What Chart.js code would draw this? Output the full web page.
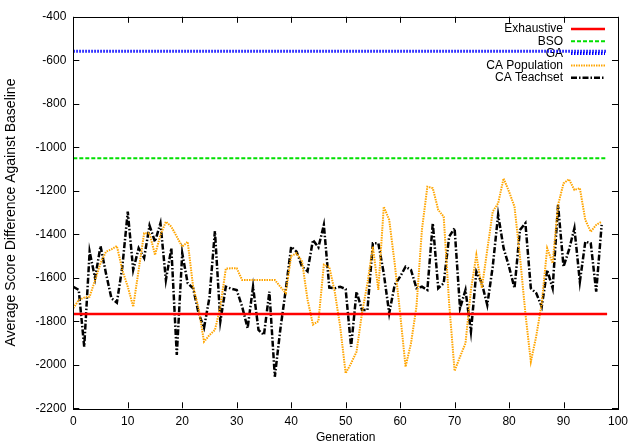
<!DOCTYPE html>
<html>
<head>
<meta charset="utf-8">
<script src="https://cdn.jsdelivr.net/npm/chart.js@4.4.1/dist/chart.umd.min.js"></script>
<style>
  html, body { margin: 0; padding: 0; background: #fff; }
  #wrap { width: 634px; height: 444px; }
</style>
</head>
<body>
<div id="wrap"><canvas id="chart" width="634" height="444"></canvas></div>
<script>
// generations 0..97
const generations = [
  0, 1, 2, 3, 4, 5, 6, 7, 8, 9, 10, 11, 12, 13, 14, 15, 16, 17, 18, 19,
  20, 21, 22, 23, 24, 25, 26, 27, 28, 29, 30, 31, 32, 33, 34, 35, 36, 37, 38, 39,
  40, 41, 42, 43, 44, 45, 46, 47, 48, 49, 50, 51, 52, 53, 54, 55, 56, 57, 58, 59,
  60, 61, 62, 63, 64, 65, 66, 67, 68, 69, 70, 71, 72, 73, 74, 75, 76, 77, 78, 79,
  80, 81, 82, 83, 84, 85, 86, 87, 88, 89, 90, 91, 92, 93, 94, 95, 96, 97
];

// flat reference results (start and end generation)
const refSpan = [0, 98];
const exhaustiveScore = -1766;
const bsoScore = -1050;
const gaScore = -558;

const caPopulation = [
  -1740, -1702, -1691, -1687, -1610, -1533, -1480, -1469, -1454, -1564,
  -1641, -1733, -1564, -1395, -1395, -1495, -1403, -1342, -1365, -1411,
  -1457, -1434, -1641, -1740, -1894, -1863, -1840, -1733, -1558, -1556,
  -1556, -1610, -1610, -1610, -1610, -1610, -1610, -1610, -1641, -1670,
  -1500, -1487, -1525, -1700, -1815, -1800, -1540, -1550, -1664, -1825,
  -2039, -1993, -1940, -1763, -1625, -1457, -1656, -1273, -1334, -1533,
  -1763, -2009, -1901, -1733, -1380, -1181, -1188, -1288, -1319, -1717,
  -2028, -1963, -1901, -1656, -1495, -1648, -1472, -1296, -1257, -1143,
  -1204, -1273, -1503, -1763, -1986, -1867, -1717, -1464, -1533, -1265,
  -1166, -1147, -1196, -1188, -1334, -1388, -1357, -1342
];

const caTeachset = [
  -1641, -1656, -1917, -1480, -1602, -1454, -1580, -1694, -1714, -1550,
  -1296, -1564, -1464, -1509, -1360, -1434, -1349, -1610, -1464, -1955,
  -1487, -1625, -1648, -1763, -1830, -1690, -1385, -1800, -1641, -1650,
  -1656, -1733, -1832, -1641, -1840, -1863, -1664, -2055, -1839, -1656,
  -1457, -1480, -1549, -1570, -1426, -1460, -1357, -1645, -1648, -1641,
  -1652, -1917, -1664, -1748, -1748, -1441, -1441, -1580, -1763, -1633,
  -1595, -1549, -1564, -1648, -1641, -1656, -1349, -1648, -1625, -1411,
  -1372, -1740, -1656, -1848, -1572, -1625, -1725, -1549, -1310, -1464,
  -1549, -1648, -1380, -1349, -1648, -1671, -1733, -1564, -1648, -1265,
  -1549, -1472, -1372, -1618, -1434, -1441, -1664, -1357
];

const FONT = '"Liberation Sans", Arial, Helvetica, sans-serif';

function flat(v) {
  return refSpan.map(g => ({ x: g, y: v }));
}
function series(vals) {
  return generations.map((g, i) => ({ x: g, y: vals[i] }));
}

// gnuplot style box: full frame with ticks pointing inwards on all sides
const frameTicks = {
  id: 'frameTicks',
  afterDraw(chart) {
    const { ctx, chartArea: a, scales } = chart;
    const len = 6;
    ctx.save();
    ctx.strokeStyle = '#000';
    ctx.lineWidth = 1;
    ctx.setLineDash([]);
    ctx.beginPath();
    scales.x.ticks.forEach(t => {
      const px = Math.round(scales.x.getPixelForValue(t.value)) + 0.5;
      ctx.moveTo(px, a.bottom); ctx.lineTo(px, a.bottom - len);
      ctx.moveTo(px, a.top); ctx.lineTo(px, a.top + len);
    });
    scales.y.ticks.forEach(t => {
      const py = Math.round(scales.y.getPixelForValue(t.value)) + 0.5;
      ctx.moveTo(a.left, py); ctx.lineTo(a.left + len, py);
      ctx.moveTo(a.right, py); ctx.lineTo(a.right - len, py);
    });
    ctx.stroke();
    ctx.strokeRect(Math.round(a.left) + 0.5, Math.round(a.top) + 0.5,
      Math.round(a.right - a.left), Math.round(a.bottom - a.top));
    ctx.restore();
  }
};

// key in the top right corner: label then a line sample
const keyBox = {
  id: 'keyBox',
  beforeDatasetsDraw(chart) {
    const { ctx } = chart;
    const textRight = 563, x0 = 571, x1 = 605, top = 29, step = 12.2;
    ctx.save();
    ctx.font = '12px ' + FONT;
    ctx.textAlign = 'right';
    ctx.textBaseline = 'middle';
    chart.data.datasets.forEach((ds, i) => {
      const y = top + i * step;
      ctx.fillStyle = '#000';
      ctx.fillText(ds.label, textRight, y);
      ctx.strokeStyle = ds.borderColor;
      ctx.lineWidth = ds.borderWidth;
      ctx.setLineDash(ds.borderDash || []);
      ctx.beginPath();
      ctx.moveTo(x0, y);
      ctx.lineTo(x1, y);
      ctx.stroke();
    });
    ctx.restore();
  }
};

new Chart(document.getElementById('chart'), {
  type: 'line',
  data: {
    datasets: [
      { label: 'Exhaustive', data: flat(exhaustiveScore), borderColor: '#ff0000', borderWidth: 2.5 },
      { label: 'BSO', data: flat(bsoScore), borderColor: '#00e000', borderWidth: 2, borderDash: [4, 2] },
      { label: 'GA', data: flat(gaScore), borderColor: '#0000ff', borderWidth: 3, borderDash: [1.5, 1.5] },
      { label: 'CA Population', data: series(caPopulation), borderColor: '#ffa500', borderWidth: 2, borderDash: [1.5, 1] },
      { label: 'CA Teachset', data: series(caTeachset), borderColor: '#000000', borderWidth: 2.5, borderDash: [6, 2, 1.5, 2] }
    ]
  },
  options: {
    responsive: false,
    animation: false,
    devicePixelRatio: 1,
    layout: { padding: { left: 0, right: 12.7, top: 16.8, bottom: 0 } },
    elements: { point: { radius: 0 }, line: { tension: 0, fill: false } },
    plugins: { legend: { display: false }, tooltip: { enabled: false } },
    scales: {
      x: {
        type: 'linear', min: 0, max: 100,
        grid: { display: false, drawTicks: false },
        border: { display: false },
        ticks: { stepSize: 10, color: '#000', padding: 6, maxRotation: 0, font: { family: FONT, size: 12 } },
        title: { display: true, text: 'Generation', color: '#000', padding: { top: 0, bottom: 0 }, font: { family: FONT, size: 12, lineHeight: 1 } },
        afterFit(scale) { scale.height = 35.7; }
      },
      y: {
        type: 'linear', min: -2200, max: -400,
        grid: { display: false, drawTicks: false },
        border: { display: false },
        ticks: { stepSize: 200, color: '#000', padding: 7, font: { family: FONT, size: 12 }, callback: v => String(v) },
        title: { display: true, text: 'Average Score Difference Against Baseline', color: '#000', padding: { top: 3, bottom: 0 }, font: { family: FONT, size: 14 } },
        afterFit(scale) { scale.width = 73.3; }
      }
    }
  },
  plugins: [frameTicks, keyBox]
});
</script>
</body>
</html>
